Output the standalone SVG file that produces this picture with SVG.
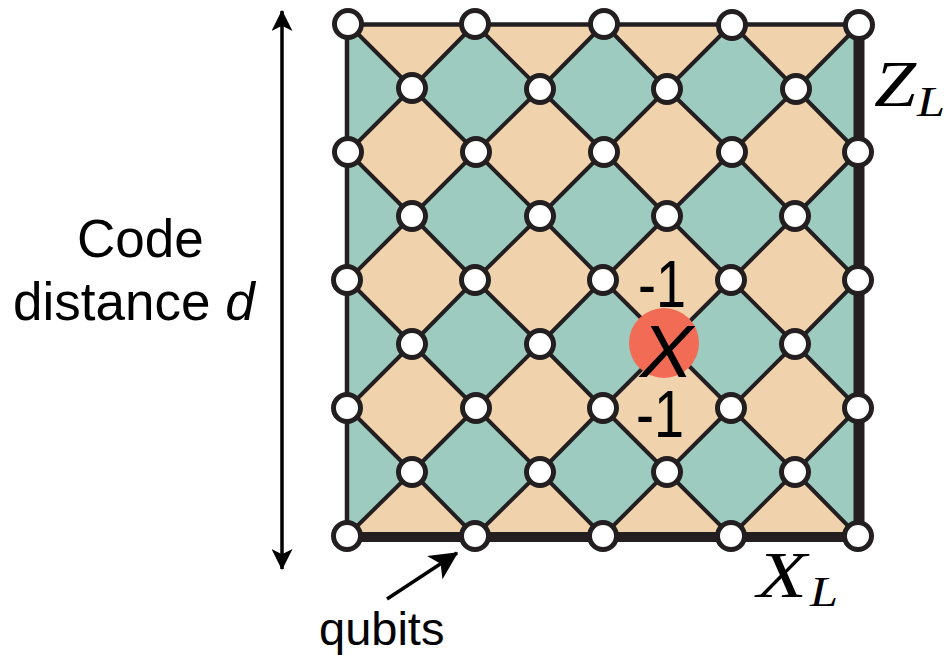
<svg xmlns="http://www.w3.org/2000/svg" width="948" height="656" viewBox="0 0 948 656">
<style>
.d{fill:none;stroke:#231f20;stroke-width:4;stroke-linejoin:round}
.q{fill:#fff;stroke:#231f20;stroke-width:5;r:13.5px}
.s{font-family:"Liberation Sans",Arial,sans-serif;fill:#000}
.m{font-family:"Liberation Serif","Times New Roman",serif;font-style:italic;fill:#000}
.t{fill:#f0d3ac}
</style>
<defs>
<marker id="a" viewBox="0 0 10 10" refX="9.500" refY="5" markerWidth="6" markerHeight="6" markerUnits="strokeWidth" orient="auto-start-reverse"><path d="M0 0L10 5L0 10L2.500 5Z" fill="#000"/></marker>
<marker id="b" viewBox="0 0 10 10" refX="9.500" refY="5" markerWidth="8" markerHeight="8" markerUnits="strokeWidth" orient="auto"><path d="M0 0L10 5L0 10L2.500 5Z" fill="#000"/></marker>
</defs>
<g id="plaquettes">
<rect x="348" y="24" width="511" height="512" fill="#9ecbc0"/>
<g class="t">
<path d="M348 24H475L412 88ZM475 24H604L540 89ZM604 24H732L667 89ZM732 24H859L796 89Z"/>
<path d="M412 88L476 152L412 216L348 152ZM540 89L604 152L540 216L476 152ZM667 89L732 152L667 216L604 152ZM796 89L858 152L795 216L732 152Z"/>
<path d="M412 216L475 280L412 344L348 280ZM540 216L603 280L540 344L475 280ZM667 216L731 280L667 344L603 280ZM795 216L858 280L795 344L731 280Z"/>
<path d="M412 344L476 408L412 472L348 408ZM540 344L603 408L540 472L476 408ZM667 344L731 408L667 472L603 408ZM795 344L858 408L795 472L731 408Z"/>
<path d="M412 472L475 536H348ZM540 472L603 536H475ZM667 472L731 536H603ZM795 472L858 536H731Z"/>
</g>
</g>
<g id="connectors">
<path class="d" d="M348 24L412 88L476 152L540 216L603 280L667 344L731 408L795 472L858 536"/>
<path class="d" d="M475 24L540 89L604 152L667 216L731 280L795 344L858 408"/>
<path class="d" d="M604 24L667 89L732 152L795 216L858 280"/>
<path class="d" d="M732 24L796 89L858 152"/>
<path class="d" d="M348 152L412 216L475 280L540 344L603 408L667 472L731 536"/>
<path class="d" d="M348 280L412 344L476 408L540 472L603 536"/>
<path class="d" d="M348 408L412 472L475 536"/>
<path class="d" d="M859 25L796 89L732 152L667 216L603 280L540 344L476 408L412 472L347 536"/>
<path class="d" d="M732 24L667 89L604 152L540 216L475 280L412 344L348 408"/>
<path class="d" d="M604 24L540 89L476 152L412 216L348 280"/>
<path class="d" d="M475 24L412 88L348 152"/>
<path class="d" d="M858 152L795 216L731 280L667 344L603 408L540 472L475 536"/>
<path class="d" d="M858 280L795 344L731 408L667 472L603 536"/>
<path class="d" d="M858 408L795 472L731 536"/>
<path d="M348 24.500H859" fill="none" stroke="#231f20" stroke-width="4.500"/>
<path d="M347 24V536" fill="none" stroke="#231f20" stroke-width="4.500"/>
<path d="M859 25V536" fill="none" stroke="#231f20" stroke-width="11"/>
<path d="M347 537H859" fill="none" stroke="#231f20" stroke-width="10"/>
<path d="M282 11V569" fill="none" stroke="#000" stroke-width="3.500" marker-start="url(#a)" marker-end="url(#a)"/>
<path d="M387 599L457 553" fill="none" stroke="#000" stroke-width="3.500" marker-end="url(#b)"/>
</g>
<g id="qubits">
<circle id="q00" class="q" cx="348" cy="24"/><circle id="q01" class="q" cx="475" cy="24"/><circle id="q02" class="q" cx="604" cy="24"/><circle id="q03" class="q" cx="732" cy="25"/><circle id="q04" class="q" cx="859" cy="25"/>
<circle id="i00" class="q" cx="412" cy="88"/><circle id="i01" class="q" cx="540" cy="89"/><circle id="i02" class="q" cx="667" cy="89"/><circle id="i03" class="q" cx="796" cy="89"/>
<circle id="q10" class="q" cx="348" cy="152"/><circle id="q11" class="q" cx="476" cy="152"/><circle id="q12" class="q" cx="604" cy="152"/><circle id="q13" class="q" cx="732" cy="152"/><circle id="q14" class="q" cx="858" cy="152"/>
<circle id="i10" class="q" cx="412" cy="216"/><circle id="i11" class="q" cx="540" cy="216"/><circle id="i12" class="q" cx="667" cy="216"/><circle id="i13" class="q" cx="795" cy="216"/>
<circle id="q20" class="q" cx="347" cy="280"/><circle id="q21" class="q" cx="475" cy="280"/><circle id="q22" class="q" cx="603" cy="280"/><circle id="q23" class="q" cx="731" cy="280"/><circle id="q24" class="q" cx="858" cy="280"/>
<circle id="i20" class="q" cx="412" cy="344"/><circle id="i21" class="q" cx="540" cy="344"/><circle id="i23" class="q" cx="795" cy="344"/>
<circle id="q30" class="q" cx="347" cy="408"/><circle id="q31" class="q" cx="476" cy="408"/><circle id="q32" class="q" cx="603" cy="408"/><circle id="q33" class="q" cx="731" cy="408"/><circle id="q34" class="q" cx="858" cy="408"/>
<circle id="i30" class="q" cx="412" cy="472"/><circle id="i31" class="q" cx="540" cy="472"/><circle id="i32" class="q" cx="667" cy="472"/><circle id="i33" class="q" cx="795" cy="472"/>
<circle id="q40" class="q" cx="347" cy="536"/><circle id="q41" class="q" cx="475" cy="536"/><circle id="q42" class="q" cx="603" cy="536"/><circle id="q43" class="q" cx="731" cy="536"/><circle id="q44" class="q" cx="858" cy="536"/>
</g>
<g id="error">
<circle cx="664" cy="343" r="35" fill="#f26b55"/>
<text class="s" x="640" y="377" font-size="75" font-style="italic" textLength="53" lengthAdjust="spacingAndGlyphs">X</text>
</g>
<g id="labels">
<text class="s" x="638" y="307" font-size="66" textLength="48" lengthAdjust="spacingAndGlyphs">-1</text>
<text class="s" x="636" y="437" font-size="66" textLength="48" lengthAdjust="spacingAndGlyphs">-1</text>
<text class="s" x="77" y="257" font-size="53">Code</text>
<text class="s" x="13" y="320" font-size="53">distance <tspan font-style="italic">d</tspan></text>
<text class="s" x="319" y="645" font-size="47">qubits</text>
<text class="m" x="874" y="106" font-size="65" textLength="42" lengthAdjust="spacingAndGlyphs">Z</text>
<text class="m" x="917" y="116" font-size="43" textLength="28" lengthAdjust="spacingAndGlyphs">L</text>
<text class="m" x="757" y="597" font-size="65" textLength="50" lengthAdjust="spacingAndGlyphs">X</text>
<text class="m" x="810" y="606" font-size="43" textLength="28" lengthAdjust="spacingAndGlyphs">L</text>
</g>
</svg>
